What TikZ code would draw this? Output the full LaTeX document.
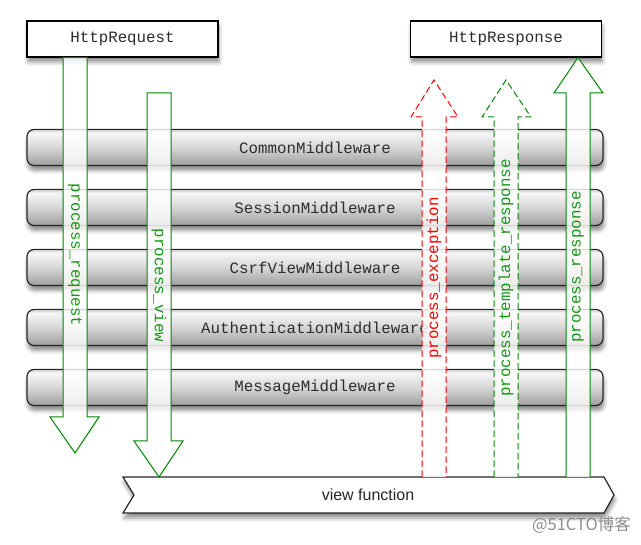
\documentclass[tikz,border=0pt]{standalone}
\usepackage{fontspec}
\setmainfont{Liberation Sans}
\newfontfamily\monof{Liberation Mono}
\newfontfamily\cjkf{Noto Sans CJK SC}
\usetikzlibrary{shadows.blur}
\definecolor{arrgreen}{RGB}{0,135,0}
\definecolor{txtgreen}{RGB}{20,150,20}
\definecolor{arrred}{RGB}{255,0,0}
\definecolor{labgray}{RGB}{45,45,45}
\pgfdeclareverticalshading{barshade}{100bp}{color(0bp)=(black!38); color(25bp)=(black!38); color(50bp)=(black!16); color(68bp)=(black!5); color(71bp)=(black!3); color(72.5bp)=(black!14); color(75bp)=(black!6); color(100bp)=(black!6)}
\tikzset{
  shad/.style={blur shadow={shadow xshift=1pt, shadow yshift=-5pt, shadow blur radius=4pt, shadow opacity=45}},
  topbox/.style={draw=black, line width=1.3pt, fill=white, minimum width=191pt, minimum height=36pt, shad, font=\monof\fontsize{15.8}{18}\selectfont, text=labgray},
  bar/.style={draw=black!85, line width=1.2pt, rounded corners=7pt, shading=barshade, minimum width=576pt, minimum height=36pt, shad, font=\monof\fontsize{15.8}{18}\selectfont, text=labgray},
  bigarrow/.style={line width=1pt, fill=white, fill opacity=0.82, line join=miter},
  dasharrow/.style={bigarrow, dash pattern=on 6.5pt off 3.5pt},
  arrlabel/.style={font=\monof\fontsize{15.8}{18}\selectfont, inner sep=0pt},
}
\begin{document}
\begin{tikzpicture}[x=1pt,y=-1pt]
\useasboundingbox (0,0) rectangle (641,545);
% top boxes
\node[topbox] (req) at (122.5,39) {HttpRequest};
\node[topbox] (resp) at (506,39) {HttpResponse};
% middleware bars
\node[bar] (common) at (315,147.5) {CommonMiddleware};
\node[bar] (session) at (315,207.5) {SessionMiddleware};
\node[bar] (csrf) at (315,267.5) {CsrfViewMiddleware};
\node[bar] (auth) at (315,327.5) {AuthenticationMiddleware};
\node[bar] (msg) at (315,387.5) {MessageMiddleware};
% view function banner
\coordinate (vftop) at (368,477);
\path[draw=black!85, line width=1.2pt, fill=white, line join=miter, shad] (123,477) -- (604,477) -- (614,495) -- (604,513) -- (123,513) -- (134,495) -- cycle;
\node[font=\fontsize{16}{18}\selectfont, text=black!85] (vf) at (368,495) {view function};
% arrows
\coordinate (reqtip) at (75,453);
\coordinate (viewtip) at (159,477);
\draw[bigarrow, draw=arrgreen] (req.south -| 63,0) -- (63,417) -- (50,417) -- (reqtip) -- (99,417) -- (87,417) -- (req.south -| 87,0) -- cycle;
\draw[bigarrow, draw=arrgreen] (147,93) -- (147,441) -- (134,441) -- (viewtip) -- (183,441) -- (171,441) -- (171,93) -- cycle;
\coordinate (exctip) at (434,80);
\coordinate (tpltip) at (506,80);
\coordinate (resptip) at (578,57);
\draw[dasharrow, draw=arrred] (vftop -| 422,0) -- (422,117) -- (411,117) -- (exctip) -- (458,117) -- (446,117) -- (vftop -| 446,0);
\draw[dasharrow, draw=arrgreen] (vftop -| 494,0) -- (494,117) -- (482,117) -- (tpltip) -- (531,117) -- (518,117) -- (vftop -| 518,0);
\draw[bigarrow, draw=arrgreen] (vftop -| 566,0) -- (566,93) -- (554,93) -- (resp.south -| resptip) -- (603,93) -- (590,93) -- (vftop -| 590,0);
% arrow labels
\node[arrlabel, text=txtgreen, rotate=-90] (lreq) at (75,255) {process\_request};
\node[arrlabel, text=txtgreen, rotate=-90] (lview) at (159,285.5) {process\_view};
\node[arrlabel, text=arrred, rotate=90] (lexc) at (434,278) {process\_exception};
\node[arrlabel, text=txtgreen, rotate=90] (ltpl) at (506,278) {process\_template\_response};
\node[arrlabel, text=txtgreen, rotate=90] (lresp) at (578,267) {process\_response};
% watermark
\node[font=\cjkf\fontsize{16.5}{18}\selectfont, text=black!45, anchor=east, inner sep=0pt] (wm) at (631,525) {@51CTO博客};
\end{tikzpicture}
\end{document}
